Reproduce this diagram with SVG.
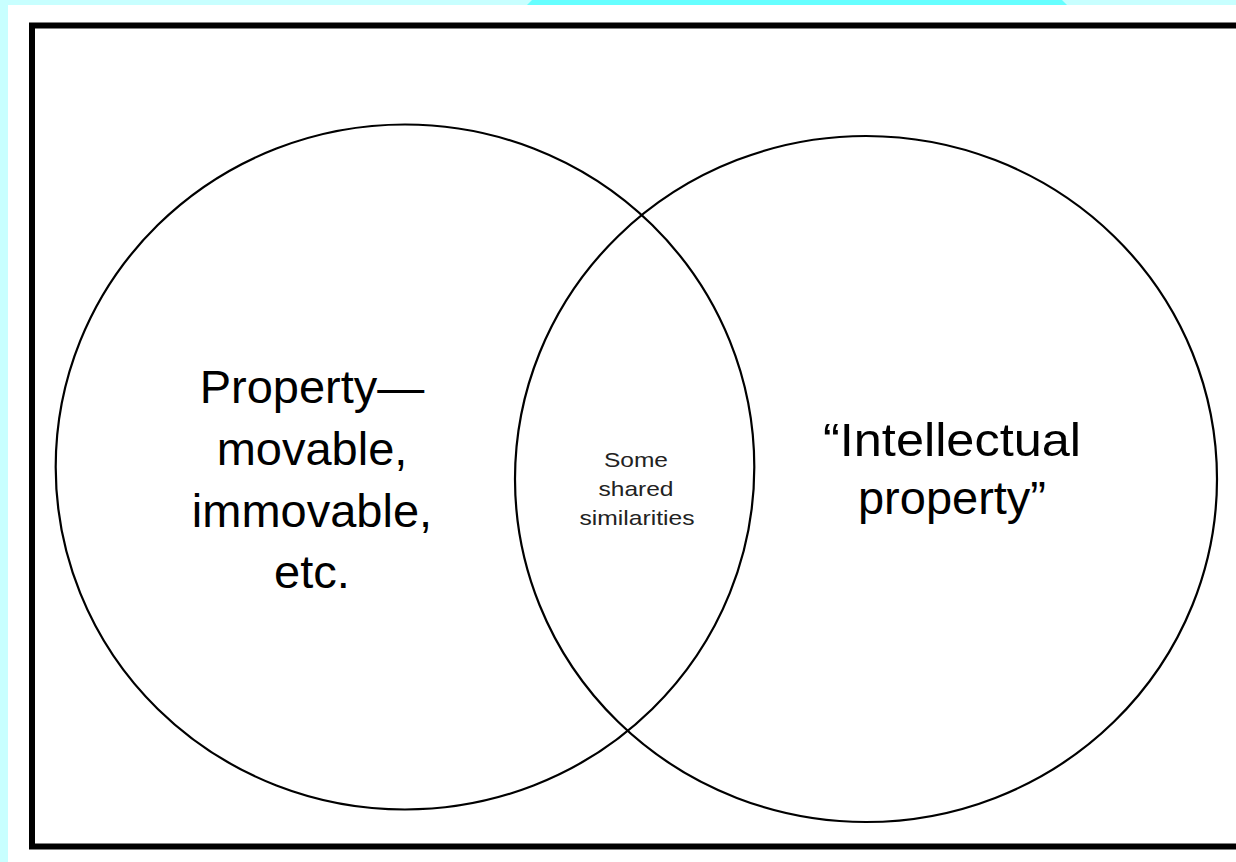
<svg xmlns="http://www.w3.org/2000/svg" width="1236" height="862" viewBox="0 0 1236 862">
  <style>
    .circle { fill: none; stroke: #000; stroke-width: 2.2; }
    .big { font-family: "Liberation Sans", Arial, sans-serif; font-size: 47px; fill: #000; text-anchor: middle; }
    .small { font-family: "Liberation Sans", Arial, sans-serif; font-size: 21px; fill: #222; text-anchor: middle; }
  </style>
  <rect x="0" y="0" width="1236" height="862" fill="#c8ffff"/>
  <polygon points="527,5 532,0 1062,0 1067,5" fill="#66ffff"/>
  <rect x="8" y="5" width="1228" height="857" fill="#ffffff"/>
  <rect x="32" y="25.5" width="1230" height="821" fill="#ffffff" stroke="#000" stroke-width="6"/>
  <g id="node-property">
    <ellipse class="circle" cx="405" cy="467" rx="349.3" ry="342.5"/>
    <text class="big" x="312" y="403">Property—</text>
    <text class="big" x="312" y="465">movable,</text>
    <text class="big" x="312" y="527">immovable,</text>
    <text class="big" x="312" y="588">etc.</text>
  </g>
  <g id="node-ip">
    <ellipse class="circle" cx="866" cy="479" rx="351" ry="343"/>
    <text class="big" x="952" y="456" textLength="258" lengthAdjust="spacingAndGlyphs">“Intellectual</text>
    <text class="big" x="952" y="514">property”</text>
  </g>
  <g id="node-shared">
    <text class="small" x="636" y="467" textLength="64" lengthAdjust="spacingAndGlyphs">Some</text>
    <text class="small" x="636" y="496" textLength="75" lengthAdjust="spacingAndGlyphs">shared</text>
    <text class="small" x="637" y="525" textLength="115" lengthAdjust="spacingAndGlyphs">similarities</text>
  </g>
  <g id="connectors"></g>
</svg>
